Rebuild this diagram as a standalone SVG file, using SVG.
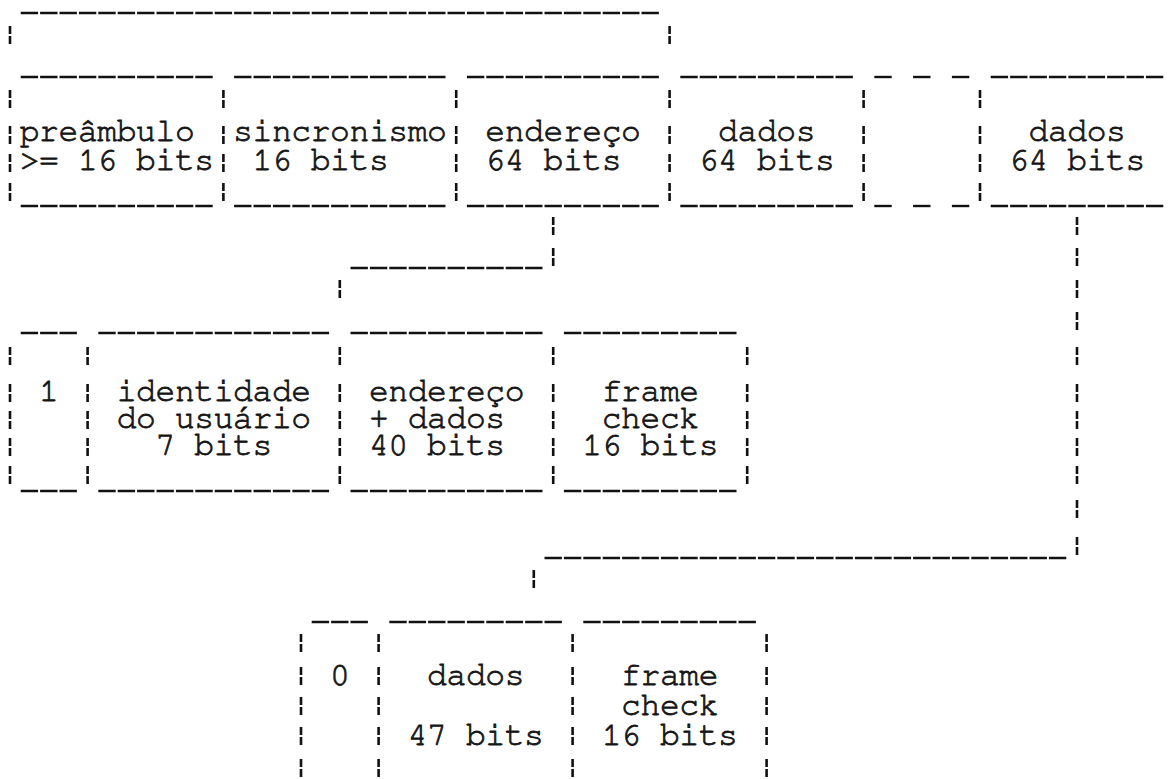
<svg xmlns="http://www.w3.org/2000/svg" xmlns:xlink="http://www.w3.org/1999/xlink" width="1169" height="779" viewBox="0 0 1169 779">
<style>
.t{font-family:"Nimbus Mono PS","Nimbus Mono L","FreeMono","Courier","Liberation Mono",monospace;font-size:33px;letter-spacing:-0.4px;fill:#151515;stroke:#151515;stroke-width:0.8}
.u{stroke:#111;stroke-width:2.4;stroke-dasharray:17.4 2;fill:none}
.bar{stroke:#111;stroke-width:2.6;fill:none}
</style>
<defs>
<path id="b" class="bar" d="M0,0V8M0,10V18"/>
</defs>
<rect width="1169" height="779" fill="#fff"/>

<g id="bracket-top">
<line class="u" x1="20.7" y1="13" x2="658.9" y2="13"/>
<use xlink:href="#b" x="10" y="26"/>
<use xlink:href="#b" x="669.6" y="26"/>
</g>

<g id="block1-dividers">
<use xlink:href="#b" x="10" y="90"/><use xlink:href="#b" x="10" y="126"/><use xlink:href="#b" x="10" y="154"/><use xlink:href="#b" x="10" y="183"/>
<use xlink:href="#b" x="223.4" y="90"/><use xlink:href="#b" x="223.4" y="126"/><use xlink:href="#b" x="223.4" y="154"/><use xlink:href="#b" x="223.4" y="183"/>
<use xlink:href="#b" x="456.2" y="90"/><use xlink:href="#b" x="456.2" y="126"/><use xlink:href="#b" x="456.2" y="154"/><use xlink:href="#b" x="456.2" y="183"/>
<use xlink:href="#b" x="669.6" y="90"/><use xlink:href="#b" x="669.6" y="126"/><use xlink:href="#b" x="669.6" y="154"/><use xlink:href="#b" x="669.6" y="183"/>
<use xlink:href="#b" x="863.6" y="90"/><use xlink:href="#b" x="863.6" y="126"/><use xlink:href="#b" x="863.6" y="154"/><use xlink:href="#b" x="863.6" y="183"/>
<use xlink:href="#b" x="980" y="90"/><use xlink:href="#b" x="980" y="126"/><use xlink:href="#b" x="980" y="154"/><use xlink:href="#b" x="980" y="183"/>
</g>

<g id="preambulo">
<line class="u" x1="20.7" y1="77" x2="212.7" y2="77"/>
<line class="u" x1="20.7" y1="206" x2="212.7" y2="206"/>
<text class="t" x="19.7" y="141">preâmbulo</text>
<text class="t" x="19.7" y="170">&gt;= 16 bits</text>
</g>
<g id="sincronismo">
<line class="u" x1="234.1" y1="77" x2="445.5" y2="77"/>
<line class="u" x1="234.1" y1="206" x2="445.5" y2="206"/>
<text class="t" x="233.1" y="141">sincronismo</text>
<text class="t" x="252.5" y="170">16 bits</text>
</g>
<g id="endereco">
<line class="u" x1="466.9" y1="77" x2="658.9" y2="77"/>
<line class="u" x1="466.9" y1="206" x2="658.9" y2="206"/>
<text class="t" x="485.3" y="141">endereço</text>
<text class="t" x="485.3" y="170">64 bits</text>
</g>
<g id="dados1">
<line class="u" x1="680.3" y1="77" x2="852.9" y2="77"/>
<line class="u" x1="680.3" y1="206" x2="852.9" y2="206"/>
<text class="t" x="718.1" y="141">dados</text>
<text class="t" x="698.7" y="170">64 bits</text>
</g>
<g id="ellipsis">
<line class="u" x1="874.3" y1="77" x2="891.7" y2="77"/>
<line class="u" x1="913.1" y1="77" x2="930.5" y2="77"/>
<line class="u" x1="951.9" y1="77" x2="969.3" y2="77"/>
<line class="u" x1="874.3" y1="206" x2="891.7" y2="206"/>
<line class="u" x1="913.1" y1="206" x2="930.5" y2="206"/>
<line class="u" x1="951.9" y1="206" x2="969.3" y2="206"/>
</g>
<g id="dadosN">
<line class="u" x1="990.7" y1="77" x2="1163.5" y2="77"/>
<line class="u" x1="990.7" y1="206" x2="1163.5" y2="206"/>
<text class="t" x="1028.5" y="141">dados</text>
<text class="t" x="1009.1" y="170">64 bits</text>
</g>

<g id="connectors">
<use xlink:href="#b" x="553.2" y="217"/><use xlink:href="#b" x="553.2" y="248"/>
<line class="u" x1="350.5" y1="268" x2="542.7" y2="268"/>
<use xlink:href="#b" x="339.8" y="280"/>
<use xlink:href="#b" x="1077" y="217"/><use xlink:href="#b" x="1077" y="248"/><use xlink:href="#b" x="1077" y="280"/><use xlink:href="#b" x="1077" y="312"/>
<use xlink:href="#b" x="1077" y="347"/><use xlink:href="#b" x="1077" y="384"/><use xlink:href="#b" x="1077" y="411"/><use xlink:href="#b" x="1077" y="438"/>
<use xlink:href="#b" x="1077" y="466"/><use xlink:href="#b" x="1077" y="500"/><use xlink:href="#b" x="1077" y="537"/>
<line class="u" x1="544.5" y1="558" x2="1066.3" y2="558"/>
<use xlink:href="#b" x="533.8" y="570"/>
</g>

<g id="block2-dividers">
<use xlink:href="#b" x="10" y="347"/><use xlink:href="#b" x="10" y="384"/><use xlink:href="#b" x="10" y="411"/><use xlink:href="#b" x="10" y="438"/><use xlink:href="#b" x="10" y="466"/>
<use xlink:href="#b" x="87.6" y="347"/><use xlink:href="#b" x="87.6" y="384"/><use xlink:href="#b" x="87.6" y="411"/><use xlink:href="#b" x="87.6" y="438"/><use xlink:href="#b" x="87.6" y="466"/>
<use xlink:href="#b" x="339.8" y="347"/><use xlink:href="#b" x="339.8" y="384"/><use xlink:href="#b" x="339.8" y="411"/><use xlink:href="#b" x="339.8" y="438"/><use xlink:href="#b" x="339.8" y="466"/>
<use xlink:href="#b" x="553.2" y="347"/><use xlink:href="#b" x="553.2" y="384"/><use xlink:href="#b" x="553.2" y="411"/><use xlink:href="#b" x="553.2" y="438"/><use xlink:href="#b" x="553.2" y="466"/>
<use xlink:href="#b" x="747.2" y="347"/><use xlink:href="#b" x="747.2" y="384"/><use xlink:href="#b" x="747.2" y="411"/><use xlink:href="#b" x="747.2" y="438"/><use xlink:href="#b" x="747.2" y="466"/>
</g>
<g id="bit1">
<line class="u" x1="20.7" y1="333" x2="77.1" y2="333"/>
<line class="u" x1="20.7" y1="491" x2="77.1" y2="491"/>
<text class="t" x="39.1" y="401">1</text>
</g>
<g id="identidade">
<line class="u" x1="98.3" y1="333" x2="329.1" y2="333"/>
<line class="u" x1="98.3" y1="491" x2="329.1" y2="491"/>
<text class="t" x="116.7" y="401">identidade</text>
<text class="t" x="116.7" y="428">do usuário</text>
<text class="t" x="155.5" y="455">7 bits</text>
</g>
<g id="endereco-dados">
<line class="u" x1="350.5" y1="333" x2="542.7" y2="333"/>
<line class="u" x1="350.5" y1="491" x2="542.7" y2="491"/>
<text class="t" x="368.9" y="401">endereço</text>
<text class="t" x="368.9" y="428">+ dados</text>
<text class="t" x="368.9" y="455">40 bits</text>
</g>
<g id="frame-check1">
<line class="u" x1="563.9" y1="333" x2="736.5" y2="333"/>
<line class="u" x1="563.9" y1="491" x2="736.5" y2="491"/>
<text class="t" x="601.7" y="401">frame</text>
<text class="t" x="601.7" y="428">check</text>
<text class="t" x="582.3" y="455">16 bits</text>
</g>

<g id="block3-dividers">
<use xlink:href="#b" x="301" y="634"/><use xlink:href="#b" x="301" y="667"/><use xlink:href="#b" x="301" y="697"/><use xlink:href="#b" x="301" y="727"/><use xlink:href="#b" x="301" y="759"/>
<use xlink:href="#b" x="378.6" y="634"/><use xlink:href="#b" x="378.6" y="667"/><use xlink:href="#b" x="378.6" y="697"/><use xlink:href="#b" x="378.6" y="727"/><use xlink:href="#b" x="378.6" y="759"/>
<use xlink:href="#b" x="572.6" y="634"/><use xlink:href="#b" x="572.6" y="667"/><use xlink:href="#b" x="572.6" y="697"/><use xlink:href="#b" x="572.6" y="727"/><use xlink:href="#b" x="572.6" y="759"/>
<use xlink:href="#b" x="766.6" y="634"/><use xlink:href="#b" x="766.6" y="667"/><use xlink:href="#b" x="766.6" y="697"/><use xlink:href="#b" x="766.6" y="727"/><use xlink:href="#b" x="766.6" y="759"/>
</g>
<g id="bit0">
<line class="u" x1="311.7" y1="622" x2="367.9" y2="622"/>
<text class="t" x="330.1" y="685">0</text>
</g>
<g id="dados2">
<line class="u" x1="389.3" y1="622" x2="561.9" y2="622"/>
<text class="t" x="427.1" y="685">dados</text>
<text class="t" x="407.7" y="745">47 bits</text>
</g>
<g id="frame-check2">
<line class="u" x1="583.3" y1="622" x2="755.9" y2="622"/>
<text class="t" x="621.1" y="685">frame</text>
<text class="t" x="621.1" y="715">check</text>
<text class="t" x="601.7" y="745">16 bits</text>
</g>
</svg>
